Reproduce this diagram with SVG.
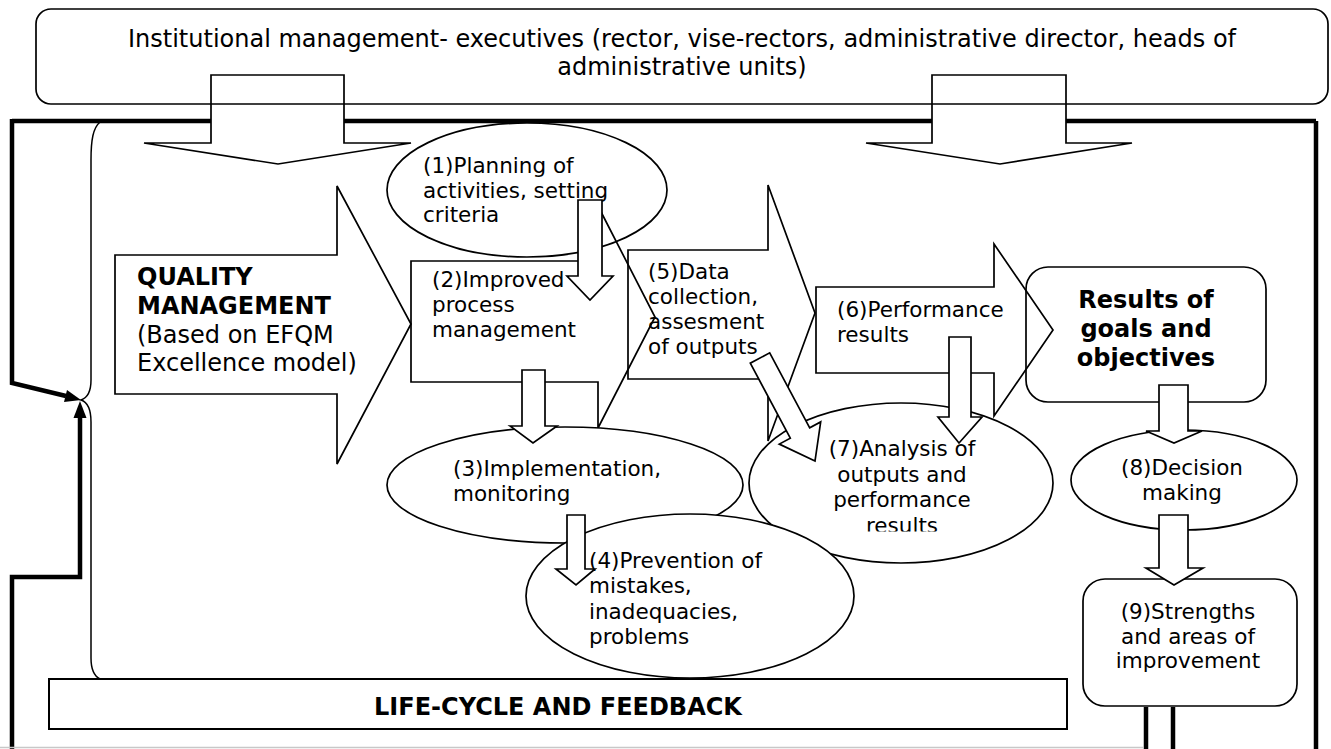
<svg xmlns="http://www.w3.org/2000/svg" width="1331" height="749" viewBox="0 0 1331 749">
<defs>
<style>
text{font-family:"DejaVu Sans",Verdana,sans-serif;font-size:21.5px;fill:#000}
.b{font-weight:bold;font-size:24px}
.big{font-size:24px}
.m{text-anchor:middle}
.s{fill:none;stroke:#000;stroke-width:1.7;stroke-linejoin:miter}
.w{fill:#fff;stroke:#000;stroke-width:1.7}
.thick{fill:none;stroke:#000;stroke-width:4.5;stroke-linejoin:miter}
.thin{fill:none;stroke:#000;stroke-width:1.5}
</style>
<clipPath id="c7"><rect x="740" y="400" width="320" height="131.5"/></clipPath>
</defs>
<rect width="1331" height="749" fill="#fff"/>
<g id="connectors">
<path class="thick" d="M12,121 H211 M344,121 H932 M1066,121 H1316 M1316,121 V749 M12,119 V383 L66,396"/>
<polygon points="81,400 64,402 67,390" fill="#000"/>
<path class="thick" d="M12,749 V577 H80 V415"/>
<polygon points="80,401 73.5,418 86.5,418" fill="#000"/>
<path class="thin" d="M100,122 C93,128 91,140 91,160 L91,380 C91,392 87,398 81,400 C87,402 91,408 91,422 L91,658 C91,670 94,676 100,679"/>
<path d="M0,747.5 H1143" stroke="#c8c8c8" stroke-width="1.5"/>
<path class="thick" d="M1146,707 V749 M1173,707 V749"/>
</g>
<g id="top">
<rect class="s" x="36" y="9" width="1292" height="95" rx="15"/>
<text class="big m" x="682" y="47">Institutional management- executives (rector, vise-rectors, administrative director, heads of</text>
<text class="big m" x="682" y="75">administrative units)</text>
</g>
<g id="arrowA"><polygon class="s" points="211,75 344,75 344,143 411,143 278,164 144,143 211,143"/></g>
<g id="arrowB"><polygon class="s" points="932,75 1066,75 1066,143 1132,143 1000,164 866,143 932,143"/></g>
<g id="qm">
<polygon class="s" points="115,255 337,255 337,186 411,324 337,464 337,394 115,394"/>
<text class="b" x="137" y="285">QUALITY</text>
<text class="b" x="137" y="314">MANAGEMENT</text>
<text class="big" x="137" y="343">(Based on EFQM</text>
<text class="big" x="137" y="371">Excellence model)</text>
</g>
<g id="n1">
<ellipse class="w" cx="527" cy="190" rx="140" ry="67"/>
<text x="423" y="173">(1)Planning of</text>
<text x="423" y="197.5">activities, setting</text>
<text x="423" y="222">criteria</text>
</g>
<g id="n5">
<polygon class="s" points="628,250 768,250 768,185 815,313 768,441 768,379 628,379"/>
<text x="648" y="279">(5)Data</text>
<text x="648" y="304">collection,</text>
<text x="648" y="329">assesment</text>
<text x="648" y="354">of outputs</text>
</g>
<g id="n2">
<polygon class="s" points="411,261 598,261 598,206 655,317 598,428 598,382 411,382"/>
<text x="432" y="287">(2)Improved</text>
<text x="432" y="312">process</text>
<text x="432" y="337">management</text>
</g>
<g id="n6">
<polygon class="s" points="816,287 994,287 994,244 1053,330 994,416 994,373 816,373"/>
<text x="837" y="317">(6)Performance</text>
<text x="837" y="342">results</text>
</g>
<g id="results">
<rect class="s" x="1026" y="267" width="240" height="135" rx="22"/>
<text class="b m" x="1146" y="308">Results of</text>
<text class="b m" x="1146" y="337">goals and</text>
<text class="b m" x="1146" y="366">objectives</text>
</g>
<g id="n3">
<ellipse class="w" cx="565" cy="485" rx="178" ry="58"/>
<text x="453" y="476">(3)Implementation,</text>
<text x="453" y="501">monitoring</text>
</g>
<g id="n7">
<ellipse class="w" cx="901" cy="483" rx="152" ry="80"/>
<g clip-path="url(#c7)">
<text class="m" x="902" y="456">(7)Analysis of</text>
<text class="m" x="902" y="481.5">outputs and</text>
<text class="m" x="902" y="507">performance</text>
<text class="m" x="902" y="532.5">results</text>
</g>
</g>
<g id="n8">
<ellipse class="w" cx="1184" cy="480" rx="113" ry="50"/>
<text class="m" x="1182" y="475">(8)Decision</text>
<text class="m" x="1182" y="500">making</text>
</g>
<g id="n9">
<rect class="w" x="1083" y="579" width="214" height="127" rx="22"/>
<text class="m" x="1188" y="619">(9)Strengths</text>
<text class="m" x="1188" y="644">and areas of</text>
<text class="m" x="1188" y="668">improvement</text>
</g>
<g id="n4">
<ellipse class="w" cx="690" cy="596" rx="164" ry="82"/>
<text x="589" y="568">(4)Prevention of</text>
<text x="589" y="593">mistakes,</text>
<text x="589" y="619">inadequacies,</text>
<text x="589" y="644">problems</text>
</g>
<g id="lifecycle">
<rect x="49" y="679" width="1018" height="50" fill="none" stroke="#000" stroke-width="2"/>
<text class="b m" x="558" y="715">LIFE-CYCLE AND FEEDBACK</text>
</g>
<g id="flow-arrows">
<polygon class="w" points="578,200 602,200 602,276 613,276 590,300 567,276 578,276"/>
<polygon class="w" points="522,370 545,370 545,426 557,426 533,443 510,426 522,426"/>
<polygon class="w" points="567,515 585,515 585,569 595,569 576,585 556,569 567,569"/>
<polygon class="w" points="769.7,352.8 809.7,427.8 820.7,421.9 815,461 779.3,444.1 790.3,438.2 750.3,363.2"/>
<polygon class="w" points="949,337 971,337 971,417 982,417 959,443 938,417 949,417"/>
<polygon class="w" points="1159,385 1188,385 1188,431 1202,431 1174,443 1146,431 1159,431"/>
<polygon class="w" points="1159,515 1188,515 1188,568 1203,568 1174,585 1146,568 1159,568"/>
</g>
</svg>
